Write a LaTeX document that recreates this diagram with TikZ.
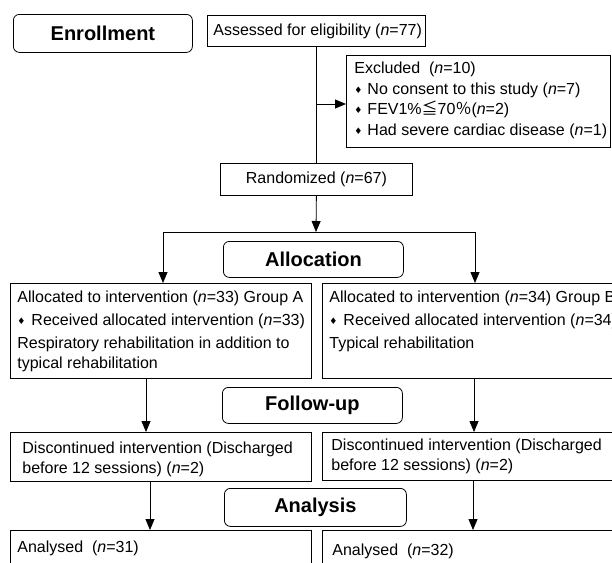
\documentclass[tikz,border=0pt]{standalone}
\usepackage{fontspec}
\setmainfont{Liberation Sans}
\newfontfamily\cjk{Noto Sans CJK SC}
\newfontfamily\symb{DejaVu Sans}
\usetikzlibrary{arrows.meta,positioning}
\newcommand{\nN}{\textit{n}}
\newcommand{\dmd}{\raisebox{1pt}{\symb\fontsize{9}{9}\selectfont ♦}}
\newcommand{\boxtext}[3]{\begin{minipage}[c][#2][t]{#1}\raggedright\setlength{\parskip}{3pt}\strut #3\end{minipage}}

\begin{document}
\begin{tikzpicture}[x=1pt, y=-1pt, line width=0.8pt,
		box/.style={draw, anchor=north west, inner xsep=7pt, inner ysep=5pt, font=\fontsize{16}{20}\selectfont},
		stage/.style={draw, rounded corners=6pt, anchor=north west, inner sep=0pt, font=\fontsize{20}{24}\selectfont\bfseries},
		>={Triangle[width=9pt,length=11pt]}]
		
		\useasboundingbox (0,0) rectangle (612,562);
		\clip (0,0) rectangle (612,562);
		
		% stages
		\node[stage, minimum width=179pt, minimum height=38pt] (enrol) at (13,14) {Enrollment};
		\node[stage, minimum width=180pt, minimum height=36pt] (alloc) at (223,241) {Allocation};
		\node[stage, minimum width=180pt, minimum height=36pt] (follow) at (222,387) {Follow-up};
		\node[stage, minimum width=182pt, minimum height=38pt] (anal) at (224,488) {Analysis};
		
		% enrollment
		\node[box, inner xsep=6pt, inner ysep=0pt] (assess) at (207,15) {
			\begin{minipage}[c][31pt][c]{206pt}\mbox{Assessed for eligibility (\nN=77)}\end{minipage}
		};
		\node[box, inner xsep=8pt, inner ysep=4pt, font=\fontsize{16}{20.5}\selectfont] (excl) at (346,55) {
			\boxtext{248pt}{84pt}{Excluded\ \ (\nN=10)\\
				\mbox{\dmd\hspace{5pt}No consent to this study (\nN=7)}\\
				\mbox{\dmd\hspace{5pt}FEV1\%{\cjk ≦}70{\cjk ％}(\nN=2)}\\
				\mbox{\dmd\hspace{5pt}Had severe cardiac disease (\nN=1)}}
		};
		\node[box, inner sep=0pt] (rand) at (220,163) {
			\begin{minipage}[c][32pt][c]{192pt}\centering Randomized (\nN=67)\end{minipage}
		};
		
		% allocation
		\node[box] (ga) at (10,283) {
			\boxtext{287pt}{85pt}{\mbox{Allocated to intervention (\nN=33) Group A}\par
				\mbox{\dmd\hspace{6pt}Received allocated intervention (\nN=33)}\par
				\mbox{Respiratory rehabilitation in addition to}\\
				typical rehabilitation}
		};
		\node[box] (gb) at (322,283) {
			\boxtext{296pt}{85pt}{\mbox{Allocated to intervention (\nN=34) Group B}\par
				\mbox{\dmd\hspace{6pt}Received allocated intervention (\nN=34)}\par
				Typical rehabilitation}
		};
		
		% follow-up
		\node[box, inner xsep=12pt, inner ysep=7pt] (da) at (10,432) {
			\boxtext{277pt}{35pt}{\mbox{Discontinued intervention (Discharged}\\
				before 12 sessions) (\nN=2)}
		};
		\node[box, inner xsep=9pt, inner ysep=4pt] (db) at (322,432) {
			\boxtext{292pt}{40pt}{\mbox{Discontinued intervention (Discharged}\\
				before 12 sessions) (\nN=2)}
		};
		
		% analysis
		\node[box, inner ysep=8pt] (aa) at (10,530) {
			\boxtext{287pt}{40pt}{Analysed\ \ (\nN=31)}
		};
		\node[box, inner xsep=10pt, inner ysep=11pt] (ab) at (322,530) {
			\boxtext{290pt}{40pt}{Analysed\ \ (\nN=32)}
		};
		
		% connectors
		\coordinate (xa) at (316,104);
		\coordinate (split) at (316,232);
		\coordinate (la) at (163,232);
		\coordinate (ra) at (475,232);
		
		\draw (assess.south) -- (rand.north);
		\draw[->] (xa) -- (xa -| excl.west);
		\draw[->] (rand.south) -- (split);
		\draw (la) -- (ra);
		\draw[->] (la) -- (la |- ga.north);
		\draw[->] (ra) -- (ra |- gb.north);
		\draw[->] ([xshift=136pt]ga.south west) -- ([xshift=136pt]da.north west);
		\draw[->] ([xshift=152pt]gb.south west) -- ([xshift=152pt]db.north west);
		\draw[->] ([xshift=140pt]da.south west) -- ([xshift=140pt]aa.north west);
		\draw[->] ([xshift=151pt]db.south west) -- ([xshift=151pt]ab.north west);
		
\end{tikzpicture}
\end{document}
